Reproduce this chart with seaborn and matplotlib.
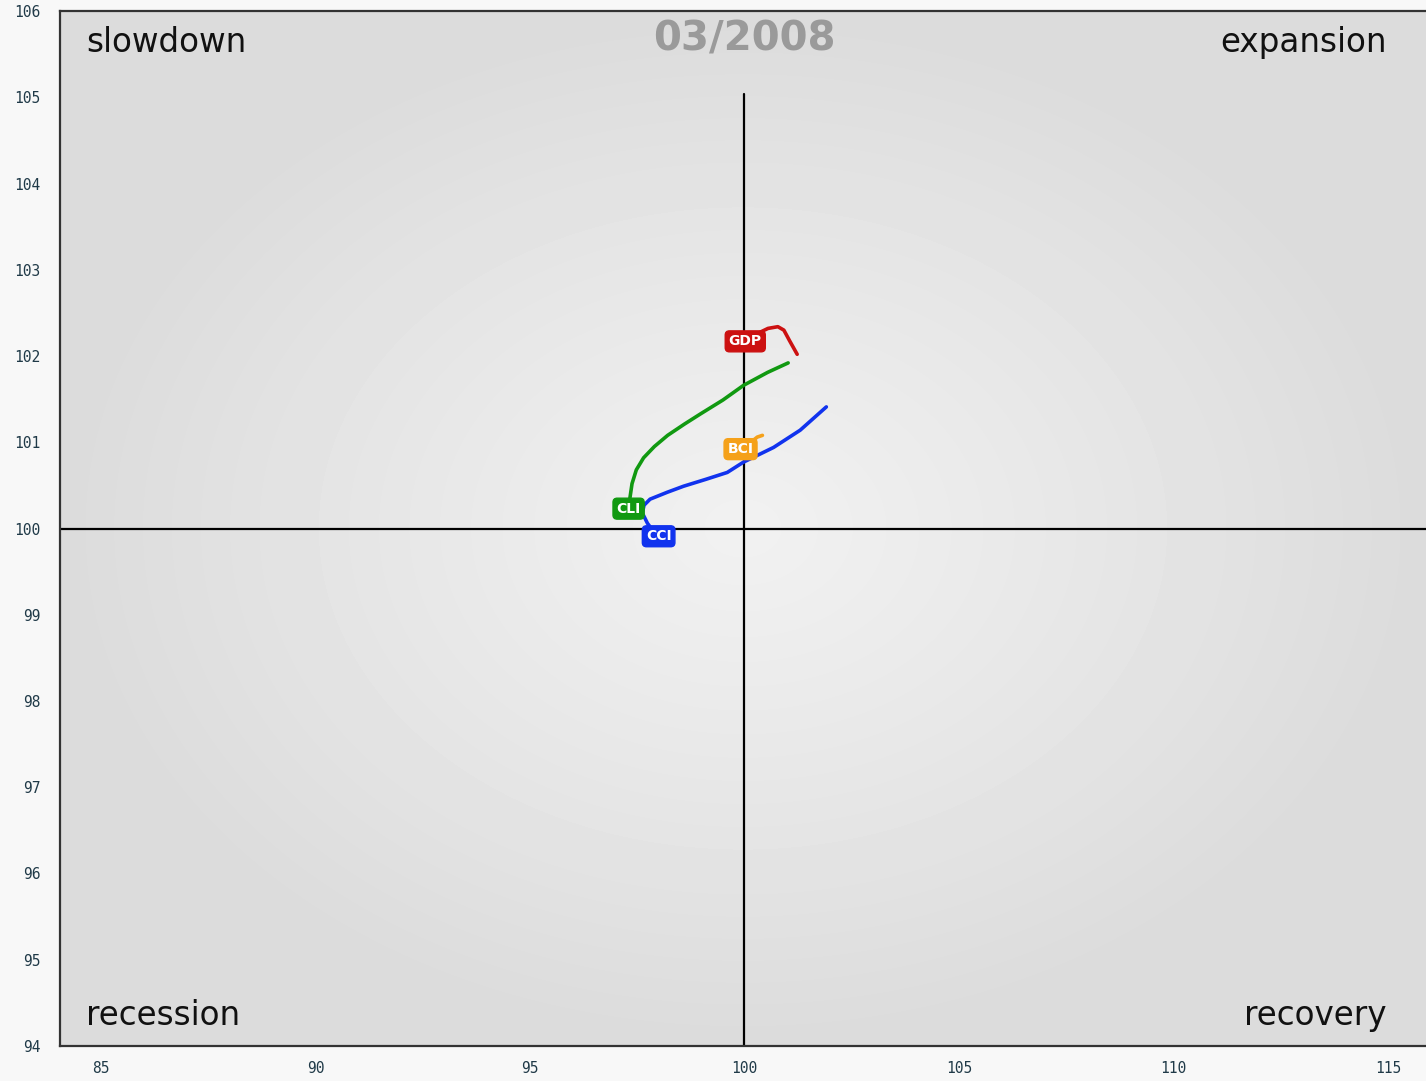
import numpy as np
import pandas as pd
import matplotlib
matplotlib.use("Agg")
import matplotlib.pyplot as plt
import seaborn as sns

# business cycle clock, 03/2008 -- trails (first point = current)
gdp_x = [100.02, 100.30, 100.55, 100.78, 100.92, 101.05, 101.23]
gdp_y = [102.17, 102.26, 102.32, 102.34, 102.30, 102.18, 102.02]

cli_x = [97.30, 97.33, 97.38, 97.48, 97.65, 97.90, 98.21, 98.60, 98.98, 99.50, 99.98, 100.54, 101.02]
cli_y = [100.23, 100.35, 100.52, 100.68, 100.82, 100.95, 101.08, 101.21, 101.33, 101.49, 101.66, 101.81, 101.92]

cci_x = [98.00, 97.86, 97.74, 97.62, 97.66, 97.80, 98.20, 98.58, 99.10, 99.60, 99.98, 100.68, 101.30, 101.91]
cci_y = [99.91, 99.98, 100.06, 100.18, 100.27, 100.34, 100.42, 100.49, 100.57, 100.65, 100.77, 100.94, 101.14, 101.41]

bci_x = [99.91, 100.15, 100.30, 100.42]
bci_y = [100.92, 101.00, 101.06, 101.08]

series = {
    "GDP": (gdp_x, gdp_y, "#cc1111"),
    "CLI": (cli_x, cli_y, "#119911"),
    "CCI": (cci_x, cci_y, "#1133ee"),
    "BCI": (bci_x, bci_y, "#f5a11a"),
}

x_ticks = [85, 90, 95, 100, 105, 110, 115]
y_ticks = list(range(94, 107))
period = "03/2008"

sns.set_theme(style="white")
plt.rcParams['font.family'] = ['DejaVu Sans']

fig = plt.figure(figsize=(14.26, 10.81), dpi=100)
fig.patch.set_facecolor("#f8f8f8")
ax = fig.add_axes([0.0421, 0.0324, 0.9579, 0.9574])

xmin, xmax, ymin, ymax = 84.045, 115.89, 94, 106

# radial gradient background
gx, gy = np.meshgrid(np.linspace(-1, 1, 400), np.linspace(-1, 1, 300))
r = np.clip(np.sqrt(gx**2 + gy**2), 0, 1)
bg = 0.945 - 0.085 * r**1.1
ax.imshow(bg, extent=[xmin, xmax, ymin, ymax], cmap="gray", vmin=0, vmax=1,
          aspect="auto", zorder=0, interpolation="bilinear")

# quadrant axes
ax.plot([100, 100], [ymin, 105.04], color="black", lw=1.6, zorder=1)
ax.plot([xmin, xmax], [100, 100], color="black", lw=1.6, zorder=1)

for name, (xs, ys, col) in series.items():
    df = pd.DataFrame({"x": xs, "y": ys})
    sns.lineplot(data=df, x="x", y="y", sort=False, color=col, lw=2.6,
                 ax=ax, zorder=3)
    ax.text(xs[0], ys[0], name, color="white", fontsize=10, fontweight="bold",
            family="DejaVu Sans Condensed", ha="center", va="center", zorder=5,
            bbox=dict(boxstyle="round,pad=0.25,rounding_size=0.3",
                      fc=col, ec=col, lw=1))

ax.set_xlim(xmin, xmax)
ax.set_ylim(ymin, ymax)
ax.set_xticks(x_ticks)
ax.set_yticks(y_ticks)
ax.set_xlabel("")
ax.set_ylabel("")
ax.tick_params(axis="both", which="both", length=6, width=1, color="#cccccc",
               labelsize=10.5, labelcolor="#203a48", pad=8)
for lab in ax.get_xticklabels() + ax.get_yticklabels():
    lab.set_family("DejaVu Sans Mono")
ax.tick_params(axis="x", pad=5)

for side in ["top", "left", "bottom"]:
    ax.spines[side].set_color("#333333")
    ax.spines[side].set_linewidth(1.6)
ax.spines["right"].set_visible(False)

quad_kw = dict(transform=ax.transAxes, fontsize=23.5, color="#111111", va="center")
ax.text(0.019, 0.97, "slowdown", ha="left", **quad_kw)
ax.text(0.971, 0.97, "expansion", ha="right", **quad_kw)
ax.text(0.019, 0.029, "recession", ha="left", **quad_kw)
ax.text(0.971, 0.029, "recovery", ha="right", **quad_kw)
ax.text(100, 105.67, period, fontsize=29, fontweight="bold", color="#9a9a9a",
        ha="center", va="center")

fig.savefig("out.png", dpi=100)
